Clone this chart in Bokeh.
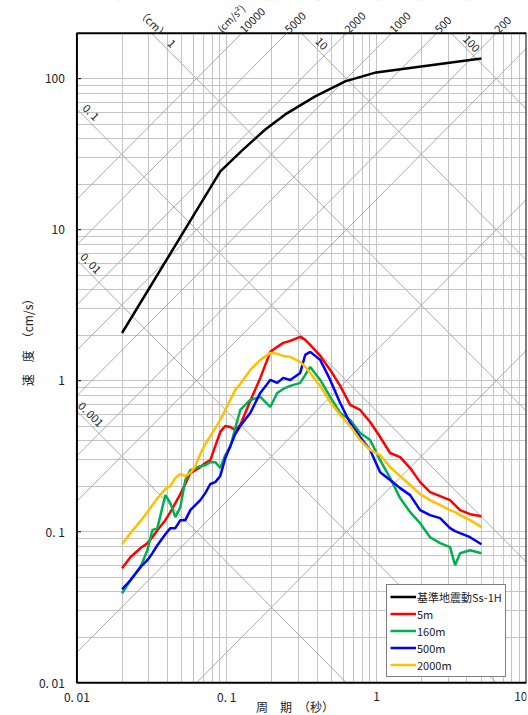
import math
from bokeh.plotting import figure
from bokeh.models import FixedTicker, Legend, LegendItem, Label, BoxAnnotation
from bokeh.embed import file_html
from bokeh.resources import INLINE

FONT = "Noto Sans CJK JP"

# ---- data (period in s, pseudo velocity in cm/s) ----
periods = [0.02, 0.02273, 0.02651, 0.02951, 0.03188, 0.03441, 0.0389, 0.04202, 0.04536, 0.04898,
           0.05288, 0.0571, 0.06166, 0.06656, 0.07188, 0.07762, 0.0838, 0.0905, 0.09772, 0.1055,
           0.1139, 0.123, 0.1434, 0.1673, 0.195, 0.2171, 0.238, 0.2651, 0.309, 0.3337,
           0.3603, 0.4202, 0.4898, 0.571, 0.6656, 0.7762, 0.905, 1.055, 1.23, 1.434,
           1.673, 1.95, 2.273, 2.651, 3.09, 3.337, 3.603, 4.202, 5.0]

vel_5m = [0.0573, 0.0678, 0.0778, 0.0840, 0.0920, 0.1024, 0.1193, 0.1348, 0.1547, 0.1775,
          0.207, 0.245, 0.256, 0.268, 0.285, 0.298, 0.369, 0.458, 0.501, 0.494,
          0.472, 0.509, 0.735, 1.044, 1.552, 1.676, 1.781, 1.837, 1.952, 1.865,
          1.728, 1.460, 1.179, 0.924, 0.691, 0.640, 0.533, 0.424, 0.332, 0.312,
          0.264, 0.213, 0.183, 0.1721, 0.1619, 0.1500, 0.1390, 0.1307, 0.1268]

vel_160m = [0.0391, 0.0477, 0.0582, 0.0754, 0.1024, 0.1056, 0.1748, 0.1547, 0.1249, 0.1455,
            0.220, 0.256, 0.264, 0.272, 0.276, 0.289, 0.289, 0.264, 0.322, 0.364,
            0.486, 0.640, 0.746, 0.781, 0.670, 0.830, 0.882, 0.924, 0.967, 1.093,
            1.234, 1.012, 0.781, 0.611, 0.550, 0.451, 0.405, 0.298, 0.227, 0.1670,
            0.1348, 0.1139, 0.0920, 0.0840, 0.0790, 0.0600, 0.0721, 0.0754, 0.0721]

vel_500m = [0.0416, 0.0477, 0.0582, 0.0648, 0.0721, 0.0814, 0.0963, 0.1056, 0.1056, 0.1193,
            0.1193, 0.1390, 0.1500, 0.1619, 0.1802, 0.207, 0.213, 0.234, 0.307, 0.369,
            0.444, 0.501, 0.611, 0.830, 1.012, 0.967, 1.044, 1.012, 1.126, 1.483,
            1.552, 1.374, 1.012, 0.712, 0.525, 0.424, 0.348, 0.248, 0.220, 0.1945,
            0.1748, 0.1390, 0.1288, 0.1230, 0.1056, 0.1009, 0.0978, 0.0920, 0.0827]

vel_2000m = [0.0827, 0.0978, 0.1175, 0.1348, 0.1500, 0.1670, 0.1916, 0.2005, 0.227, 0.241,
             0.234, 0.245, 0.272, 0.327, 0.381, 0.430, 0.486, 0.550, 0.640, 0.746,
             0.869, 0.952, 1.179, 1.374, 1.529, 1.506, 1.460, 1.438, 1.333, 1.234,
             1.126, 0.924, 0.723, 0.593, 0.501, 0.405, 0.348, 0.322, 0.268, 0.234,
             0.204, 0.1775, 0.1619, 0.1500, 0.1390, 0.1348, 0.1288, 0.1193, 0.1072]

ss1h_periods = [0.02, 0.0905, 0.1288, 0.1806, 0.2455, 0.389, 0.6166, 0.992, 5.0]
ss1h_vel = [2.07, 24.3, 34.0, 46.1, 58.0, 76.3, 96.0, 110.0, 136.0]

legend_labels = ["基準地震動Ss-1H", "5m", "160m", "500m", "2000m"]
series_colors = ["#000000", "#FF0000", "#00B050", "#0000FF", "#FFC000"]

x_ticks = [0.01, 0.1, 1, 10]
x_tick_labels = ["0. 01", "0. 1", "1", "10"]
y_ticks = [0.01, 0.1, 1, 10, 100]
y_tick_labels = ["0. 01", "0. 1", "1", "10", "100"]
x_title = "周　期　（秒）"
y_title = "速　度　（cm/s）"

disp_values = [0.001, 0.01, 0.1, 1, 10, 100]                    # cm
acc_values = [1, 10, 100, 200, 500, 1000, 2000, 5000, 10000]     # cm/s2
disp_left_values = [0.1, 0.01, 0.001]
disp_left_labels = ["0. 1", "0. 01", "0. 001"]
disp_top_values = [1, 10, 100]
disp_top_labels = ["1", "10", "100"]
acc_top_values = [10000, 5000, 2000, 1000, 500, 200]
acc_top_labels = ["10000", "5000", "2000", "1000", "500", "200"]

T_MIN, T_MAX = 0.01, 10.0
V_MIN, V_MAX = 0.01, 200.0
# the frame covers the whole canvas; the chart box (T_MIN..T_MAX, V_MIN..V_MAX) sits inside it
T_CANVAS_LEFT = 0.00309
V_CANVAS_BOTTOM, V_CANVAS_TOP = 0.00607, 329.3
TWO_PI = 2 * math.pi

p = figure(width=528, height=715, x_axis_type="log", y_axis_type="log",
           x_range=(T_CANVAS_LEFT, T_MAX), y_range=(V_CANVAS_BOTTOM, V_CANVAS_TOP),
           output_backend="svg", toolbar_location=None,
           min_border_left=0, min_border_right=2, min_border_top=0, min_border_bottom=0,
           background_fill_color="white", border_fill_color="white")

# grid
grid_x = [k * 10.0 ** e for e in range(-2, 1) for k in range(1, 10)] + [10.0]
grid_y = [k * 10.0 ** e for e in range(-2, 2) for k in range(1, 10)] + [100.0]
p.xgrid.ticker = FixedTicker(ticks=grid_x)
p.ygrid.ticker = FixedTicker(ticks=grid_y)
p.grid.grid_line_color = "#c4c4c4"
p.grid.grid_line_width = 1

# tripartite diagonal lines
DIAG = "#ababab"
for d in disp_values:
    p.line([T_MIN, T_MAX], [TWO_PI * d / T_MIN, TWO_PI * d / T_MAX], line_color=DIAG, line_width=1)
for a in acc_values:
    p.line([T_MIN, T_MAX], [a * T_MIN / TWO_PI, a * T_MAX / TWO_PI], line_color=DIAG, line_width=1)

# curves
renderers = []
renderers.append(p.line(ss1h_periods, ss1h_vel, line_color=series_colors[0], line_width=2.5))
for vals, col in zip([vel_5m, vel_160m, vel_500m, vel_2000m], series_colors[1:]):
    renderers.append(p.line(periods, vals, line_color=col, line_width=2.5))

# inward y ticks on the chart box
p.segment(x0=[T_MIN] * len(y_ticks), y0=y_ticks, x1=[T_MIN * 1.065] * len(y_ticks), y1=y_ticks,
          line_color="black", line_width=1)

# white covers outside the chart box, then the chart box border
p.add_layout(BoxAnnotation(bottom=V_MAX, fill_color="white", fill_alpha=1, line_alpha=0))
p.add_layout(BoxAnnotation(top=V_MIN, fill_color="white", fill_alpha=1, line_alpha=0))
p.add_layout(BoxAnnotation(right=T_MIN, fill_color="white", fill_alpha=1, line_alpha=0))
p.add_layout(BoxAnnotation(left=T_MIN, right=T_MAX, bottom=V_MIN, top=V_MAX,
                           fill_alpha=0, line_color="black", line_width=2, line_alpha=1))

p.xaxis.visible = False
p.yaxis.visible = False
p.outline_line_color = None

TXT = dict(text_font=FONT, text_font_size="12px", text_color="#222222")
LBL = dict(text_font=FONT, text_font_size="11px", text_color="#222222")

# tick labels and axis titles
for t, lab in zip(x_ticks, x_tick_labels):
    last = (t == x_ticks[-1])
    p.add_layout(Label(x=t, y=V_MIN, text=lab, text_align="right" if last else "center",
                       text_baseline="middle", x_offset=1 if last else 0,
                       y_offset=-14, **TXT))
for v, lab in zip(y_ticks, y_tick_labels):
    p.add_layout(Label(x=T_MIN, y=v, text=lab, text_align="right", text_baseline="middle",
                       x_offset=-12, **TXT))
p.add_layout(Label(x=0.2855, y=V_MIN, text=x_title, text_align="center", text_baseline="middle",
                   y_offset=-24, **TXT))
p.add_layout(Label(x=T_MIN, y=1.875, text=y_title, angle=math.pi / 2,
                   text_align="center", text_baseline="middle", x_offset=-49, **TXT))

# displacement labels (left side)
T_LEFT = 0.0114
for d, t in zip(disp_left_values, disp_left_labels):
    p.add_layout(Label(x=T_LEFT, y=TWO_PI * d / T_LEFT, text=t, angle=-math.pi / 4,
                       text_align="center", text_baseline="middle",
                       x_offset=6, y_offset=6, **LBL))
# displacement labels (top)
V_TOP_LBL = 158.0
for d, t in zip(disp_top_values, disp_top_labels):
    p.add_layout(Label(x=TWO_PI * d / V_TOP_LBL, y=V_TOP_LBL, text=t, angle=-math.pi / 4,
                       text_align="center", text_baseline="middle",
                       x_offset=5, y_offset=5, **LBL))
p.add_layout(Label(x=TWO_PI * 1 / 212.0, y=212.0, text="（cm）", angle=-math.pi / 4,
                   text_align="center", text_baseline="middle", x_offset=6, y_offset=6, **LBL))
# acceleration labels (above chart box)
for a, t in zip(acc_top_values, acc_top_labels):
    p.add_layout(Label(x=TWO_PI * V_MAX / a, y=V_MAX, text=t, angle=math.pi / 4,
                       text_align="left", text_baseline="middle",
                       x_offset=0, y_offset=2, **LBL))
p.add_layout(Label(x=TWO_PI * V_MAX / 10000, y=V_MAX, text="(cm/s²)", angle=math.pi / 4,
                   text_align="center", text_baseline="middle",
                   x_offset=-11, y_offset=15, text_font=FONT, text_font_size="10px",
                   text_color="#222222"))

# legend
legend = Legend(items=[LegendItem(label=lab, renderers=[r]) for lab, r in zip(legend_labels, renderers)],
                location=(386, 38))
legend.label_text_font = FONT
legend.label_text_font_size = "11px"
legend.label_text_color = "#222222"
legend.glyph_width = 26
legend.glyph_height = 17
legend.label_height = 17
legend.label_standoff = 1
legend.spacing = 0
legend.padding = 3
legend.margin = 0
legend.border_line_color = "black"
legend.border_line_width = 1
legend.background_fill_color = "white"
legend.background_fill_alpha = 1
p.add_layout(legend)

open("out.html", "w").write(file_html(p, INLINE))
